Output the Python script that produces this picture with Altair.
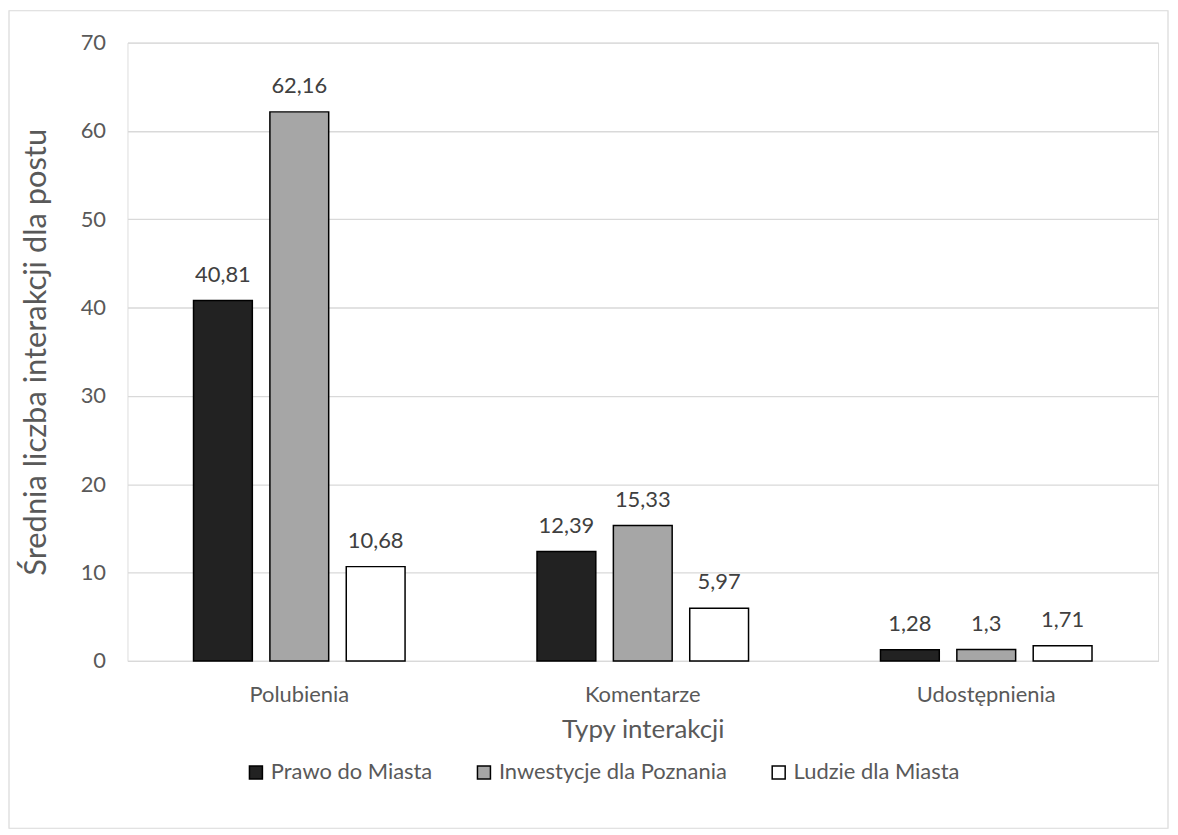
import altair as alt
import pandas as pd

categories = ["Polubienia", "Komentarze", "Udostępnienia"]
series = ["Prawo do Miasta", "Inwestycje dla Poznania", "Ludzie dla Miasta"]
prawo = [40.81, 12.39, 1.28]
inwestycje = [62.16, 15.33, 1.30]
ludzie = [10.68, 5.97, 1.71]
label_text = [["40,81", "12,39", "1,28"], ["62,16", "15,33", "1,3"], ["10,68", "5,97", "1,71"]]
colors = ["#222222", "#a6a6a6", "#ffffff"]
y_ticks = [0, 10, 20, 30, 40, 50, 60, 70]

rows = []
for s_i, (s, vals) in enumerate(zip(series, [prawo, inwestycje, ludzie])):
    for c_i, c in enumerate(categories):
        rows.append({"kat": c, "seria": s, "v": vals[c_i], "lab": label_text[s_i][c_i]})
df = pd.DataFrame(rows)

FONT = "Lato"
W, H = 1035, 621
LBL = 22
TTL = 26

x = alt.X("kat:N", sort=categories,
          scale=alt.Scale(paddingInner=0.333, paddingOuter=0.1667),
          axis=alt.Axis(title="Typy interakcji", labelAngle=0, ticks=False, tickSize=0,
                        domainColor="#d9d9d9", domainWidth=1.3, labelPadding=24,
                        labelFontSize=LBL, titleFontSize=TTL, titlePadding=11,
                        labelColor="#595959", titleColor="#595959", titleFontWeight="normal"))
xo = alt.XOffset("seria:N", sort=series,
                 scale=alt.Scale(paddingInner=0.23, paddingOuter=0.115))
y = alt.Y("v:Q", scale=alt.Scale(domain=[0, 70], nice=False),
          axis=alt.Axis(title="Średnia liczba interakcji dla postu", values=y_ticks,
                        ticks=False, tickSize=0, domain=False, labelPadding=22,
                        gridColor="#d9d9d9", gridWidth=1.3,
                        labelFontSize=LBL, titleFontSize=31, titlePadding=28,
                        labelColor="#595959", titleColor="#595959", titleFontWeight="normal"))

color = alt.Color("seria:N", sort=series,
                  scale=alt.Scale(domain=series, range=colors),
                  legend=alt.Legend(title=None, orient="none", direction="horizontal",
                                    legendX=118, legendY=722, symbolType="square",
                                    symbolSize=170, symbolStrokeColor="#000000",
                                    symbolStrokeWidth=1.5, labelFontSize=LBL,
                                    labelColor="#595959", columnPadding=40,
                                    labelOffset=4, labelLimit=400))

bars = alt.Chart(df).mark_bar(stroke="#000000", strokeWidth=1.5).encode(
    x=x, xOffset=xo, y=y, color=color)

texts = alt.Chart(df).mark_text(dy=-26, fontSize=LBL, color="#404040", font=FONT).encode(
    x=alt.X("kat:N", sort=categories), xOffset=alt.XOffset("seria:N", sort=series),
    y="v:Q", text="lab:N")

border_df = pd.DataFrame({"b": [1]})
border = alt.Chart(border_df).mark_rect(fill=None, stroke="#d9d9d9", strokeWidth=1.2,
                                        clip=False).encode(
    x=alt.value(-119), x2=alt.value(W + 10), y=alt.value(-32), y2=alt.value(H + 168))

chart = alt.layer(bars, texts, border).properties(
    width=W, height=H,
    autosize=alt.AutoSizeParams(type="none"),
    padding={"left": 120, "top": 33, "right": 12, "bottom": 170},
).configure_view(stroke=None).configure(font=FONT)

chart.save("out.html", embed_options={"renderer": "svg", "actions": False})
